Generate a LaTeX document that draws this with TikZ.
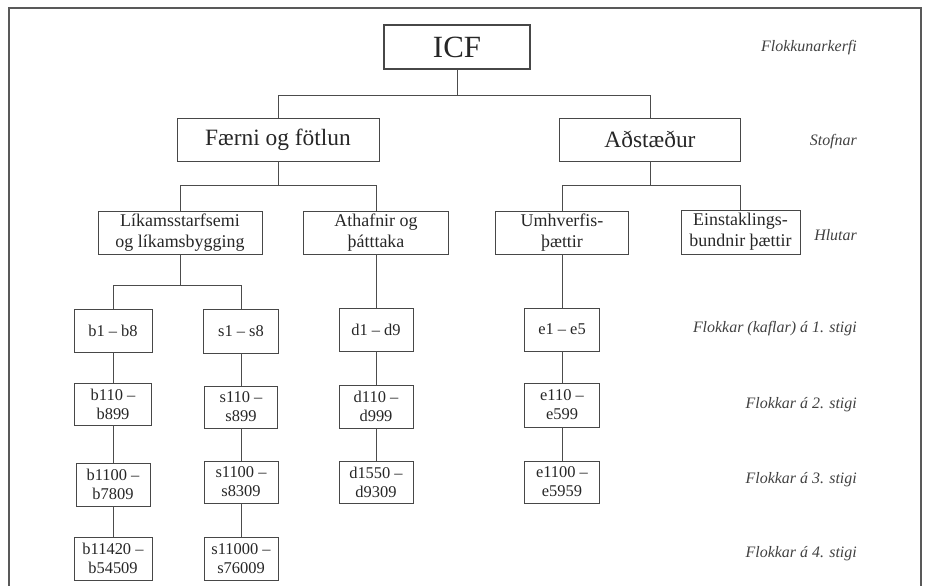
\documentclass[tikz,border=0pt]{standalone}
\usepackage{fontspec}
\setmainfont{Liberation Serif}
\begin{document}
\begin{tikzpicture}[x=1bp,y=-1bp,
  box/.style={draw=black!72,line width=0.9bp,text=black!85,align=center,inner sep=0pt,font=\fontsize{17}{19}\selectfont},
  bigbox/.style={box,font=\fontsize{23.5}{28}\selectfont},
  midbox/.style={box,font=\fontsize{18}{21}\selectfont},
  code/.style={box,font=\fontsize{16.5}{19}\selectfont},
  lvl/.style={anchor=east,text=black!75,inner sep=0pt,font=\fontsize{16}{19}\selectfont\itshape},
  link/.style={draw=black!70,line width=0.9bp}]
\useasboundingbox (0,0) rectangle (928,586);
\draw[black!65,line width=1.3bp] (9,586) -- (9,8) -- (921,8) -- (921,586);
% top
\node[box,line width=2bp,minimum width=146bp,minimum height=44bp,font=\fontsize{31}{36}\selectfont] (icf) at (457,47) {ICF};
\node[bigbox,minimum width=202bp,minimum height=43bp] (faerni) at (278,139.5) {Færni og fötlun};
\node[bigbox,minimum width=181bp,minimum height=43bp] (adst) at (650,139.5) {Aðstæður};
% parts
\node[midbox,minimum width=164bp,minimum height=43bp] (likam) at (180,232.5) {Líkamsstarfsemi\\og líkamsbygging};
\node[midbox,minimum width=145bp,minimum height=43bp] (athaf) at (376,232.5) {Athafnir og\\þátttaka};
\node[midbox,minimum width=133bp,minimum height=43bp] (umhv) at (562,232.5) {Umhverfis-\\þættir};
\node[midbox,minimum width=119bp,minimum height=44bp] (einst) at (740.5,232) {Einstaklings-\\bundnir þættir};
% level 1
\node[code,minimum width=78bp,minimum height=43bp] (b1) at (113,330.5) {b1 – b8};
\node[code,minimum width=75bp,minimum height=44bp] (s1) at (241,331) {s1 – s8};
\node[code,minimum width=74bp,minimum height=43bp] (d1) at (376,329.5) {d1 – d9};
\node[code,minimum width=75bp,minimum height=43bp] (e1) at (562,329.5) {e1 – e5};
% level 2
\node[code,minimum width=77bp,minimum height=42bp] (b2) at (113,404) {b110 –\\b899};
\node[code,minimum width=73bp,minimum height=42bp] (s2) at (241,407) {s110 –\\s899};
\node[code,minimum width=74bp,minimum height=43bp] (d2) at (376,406.5) {d110 –\\d999};
\node[code,minimum width=75bp,minimum height=44bp] (e2) at (562,405) {e110 –\\e599};
% level 3
\node[code,minimum width=74bp,minimum height=43bp] (b3) at (113,484.5) {b1100 –\\b7809};
\node[code,minimum width=74bp,minimum height=42bp] (s3) at (241,482) {s1100 –\\s8309};
\node[code,minimum width=74bp,minimum height=42bp] (d3) at (376,482) {d1550 –\\d9309};
\node[code,minimum width=75bp,minimum height=42bp] (e3) at (562,482) {e1100 –\\e5959};
% level 4
\node[code,minimum width=78bp,minimum height=43bp] (b4) at (113,558.5) {b11420 –\\b54509};
\node[code,minimum width=74bp,minimum height=43bp] (s4) at (241,558.5) {s11000 –\\s76009};
% level labels
\node[lvl] (l0) at (857,48) {Flokkunarkerfi};
\node[lvl] (l1) at (857,142) {Stofnar};
\node[lvl] (l2) at (857,235) {Hlutar};
\node[lvl] (l3) at (857,329) {Flokkar (kaflar) á 1. stigi};
\node[lvl] (l4) at (857,405) {Flokkar á 2. stigi};
\node[lvl] (l5) at (857,480) {Flokkar á 3. stigi};
\node[lvl] (l6) at (857,554) {Flokkar á 4. stigi};
% connectors
\draw[link] (icf.south) -- ++(0,25) -| (faerni.north);
\draw[link] (icf.south) -- ++(0,25) -| (adst.north);
\draw[link] (faerni.south) -- ++(0,24) -| (likam.north);
\draw[link] (faerni.south) -- ++(0,24) -| (athaf.north);
\draw[link] (adst.south) -- ++(0,24) -| (umhv.north);
\draw[link] (adst.south) -- ++(0,24) -| (einst.north);
\draw[link] (likam.south) -- ++(0,31) -| (b1.north);
\draw[link] (likam.south) -- ++(0,31) -| (s1.north);
\draw[link] (athaf.south) -- (d1.north);
\draw[link] (umhv.south) -- (e1.north);
\draw[link] (b1.south) -- (b2.north);
\draw[link] (b2.south) -- (b3.north);
\draw[link] (b3.south) -- (b4.north);
\draw[link] (s1.south) -- (s2.north);
\draw[link] (s2.south) -- (s3.north);
\draw[link] (s3.south) -- (s4.north);
\draw[link] (d1.south) -- (d2.north);
\draw[link] (d2.south) -- (d3.north);
\draw[link] (e1.south) -- (e2.north);
\draw[link] (e2.south) -- (e3.north);
\end{tikzpicture}
\end{document}
